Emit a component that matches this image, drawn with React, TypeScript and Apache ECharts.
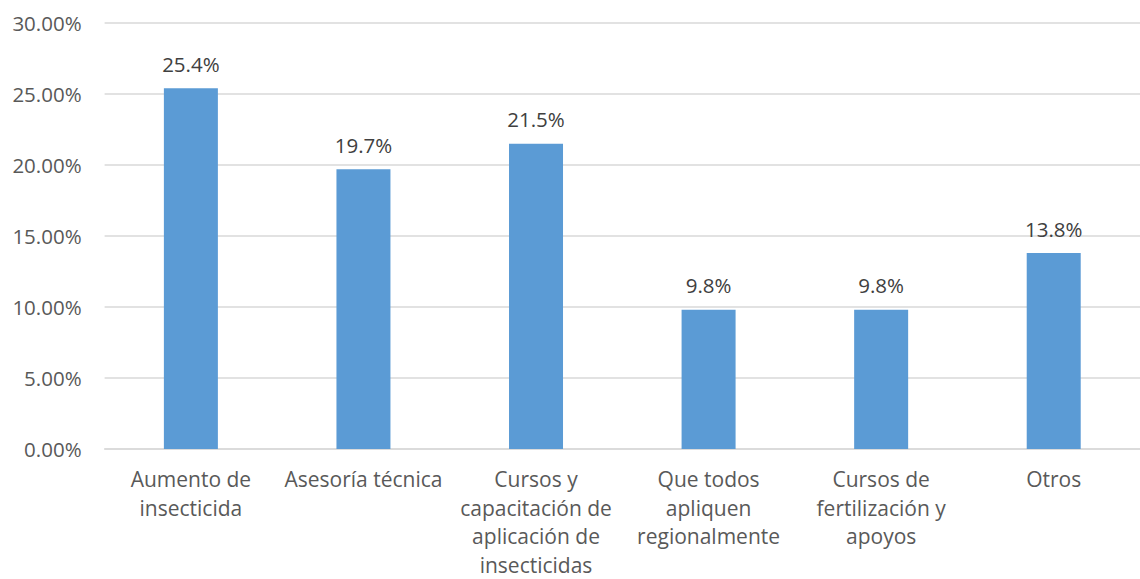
import React, { useEffect, useRef } from "react";
import * as echarts from "echarts";

const categories = [
  "Aumento de insecticida",
  "Asesoría técnica",
  "Cursos y capacitación de aplicación de insecticidas",
  "Que todos apliquen regionalmente",
  "Cursos de fertilización y apoyos",
  "Otros",
];
const wrappedLabels = [
  "Aumento de\ninsecticida",
  "Asesoría técnica",
  "Cursos y\ncapacitación de\naplicación de\ninsecticidas",
  "Que todos\napliquen\nregionalmente",
  "Cursos de\nfertilización y\napoyos",
  "Otros",
];
const values = [25.4, 19.7, 21.5, 9.8, 9.8, 13.8];
const yTicks = { min: 0, max: 30, interval: 5 };

export default function App() {
  const ref = useRef<HTMLDivElement>(null);
  useEffect(() => {
    if (!ref.current) return;
    const chart = echarts.init(ref.current, undefined, { renderer: "svg" });
    const font = "'Open Sans', sans-serif";
    chart.setOption({
      animation: false,
      grid: { left: 104.6, width: 1049, top: 23, height: 428, containLabel: false },
      xAxis: {
        type: "category",
        data: categories,
        axisLine: { show: true, lineStyle: { color: "#d9d9d9", width: 1.5 } },
        axisTick: { show: false },
        axisLabel: {
          interval: 0,
          color: "#595959",
          fontFamily: font,
          fontSize: 21,
          lineHeight: 28.5,
          margin: 16,
          formatter: (_v: string, i: number) => wrappedLabels[i],
        },
      },
      yAxis: {
        type: "value",
        min: yTicks.min,
        max: yTicks.max,
        interval: yTicks.interval,
        axisLine: { show: false },
        axisTick: { show: false },
        splitLine: { lineStyle: { color: "#d9d9d9", width: 1.5 } },
        axisLabel: {
          color: "#595959",
          fontFamily: font,
          fontSize: 20.5,
          margin: 23,
          formatter: (v: number) => v.toFixed(2) + "%",
        },
      },
      series: [
        {
          type: "bar",
          data: values,
          barWidth: 54,
          itemStyle: { color: "#5B9BD5" },
          label: {
            show: true,
            position: "top",
            distance: 14,
            color: "#404040",
            fontFamily: font,
            fontSize: 20.5,
            formatter: (p: any) => p.value.toFixed(1) + "%",
          },
        },
      ],
    });
    return () => chart.dispose();
  }, []);
  return (
    <div
      ref={ref}
      style={{ position: "fixed", left: 0, top: 0, width: 1140, height: 579, background: "#fff" }}
    />
  );
}
